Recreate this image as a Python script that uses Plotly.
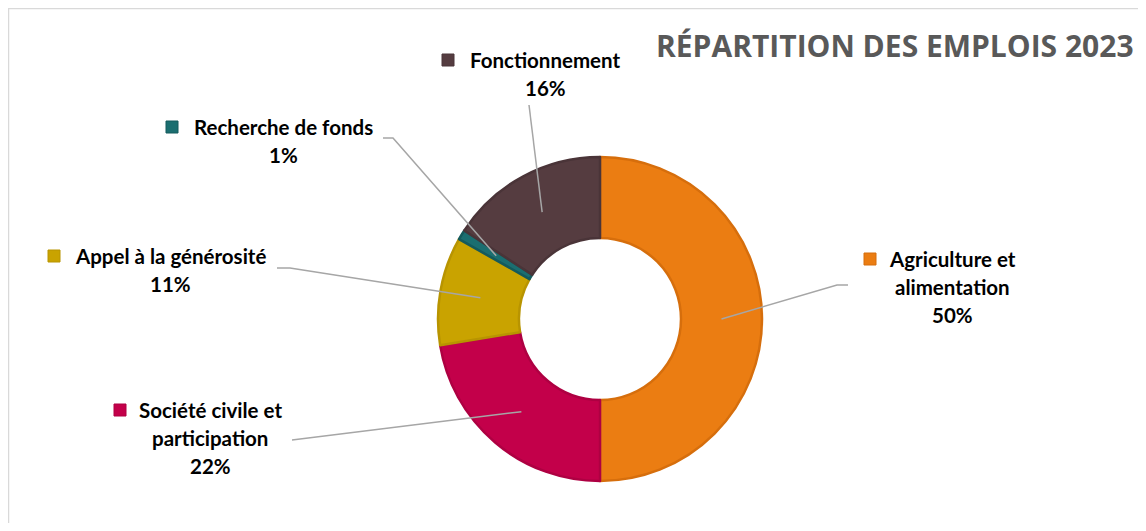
import math
import plotly.graph_objects as go

# ---- data ----
categories = ["Agriculture et alimentation", "Société civile et participation",
              "Appel à la générosité", "Recherche de fonds", "Fonctionnement"]
label_lines = [["Agriculture et", "alimentation"], ["Société civile et", "participation"],
               ["Appel à la générosité"], ["Recherche de fonds"], ["Fonctionnement"]]
values = [50.0, 22.4, 10.8, 1.0, 15.8]
colors = ["#EB7D12", "#C3004A", "#C9A300", "#1B6E70", "#553C40"]
edge_colors = ["#D66E0C", "#AE0042", "#B89400", "#145A5C", "#4A3438"]
title_text = "RÉPARTITION DES EMPLOIS 2023"

# ---- layout constants (page pixels) ----
PAGE_W, PAGE_H = 1146, 531
OFF = 8  # default body margin of the page
W, H = PAGE_W - 2 * OFF, PAGE_H - 2 * OFF
CX, CY, R_OUT = 600, 319, 162
HOLE = 0.5
R_MID = R_OUT * (1 + HOLE) / 2

def px(x, y):
    return (x - OFF) / W, 1 - (y - OFF) / H

label_pos = [
    dict(cx=952, y0=259, elbow=(837, 285), end=(848, 285)),
    dict(cx=210, y0=410, elbow=(292, 440), end=(292, 440)),
    dict(cx=170, y0=256, elbow=(290, 268), end=(277, 268)),
    dict(cx=283, y0=127, elbow=(393, 138), end=(383, 138)),
    dict(cx=545, y0=60, elbow=(529, 105), end=(529, 105)),
]
sq_x = [870, 120, 54, 172, 448]
LINE_H = 28
FONT = "Lato"
FSIZE = 20.5

fig = go.Figure()
dx0, dy1 = px(CX - R_OUT, CY - R_OUT)
dx1, dy0 = px(CX + R_OUT, CY + R_OUT)
fig.add_trace(go.Pie(
    labels=categories, values=values, sort=False, direction="clockwise", rotation=0,
    hole=HOLE, textinfo="none", hoverinfo="label+percent",
    marker=dict(colors=colors, line=dict(color=edge_colors, width=2.5)),
    domain=dict(x=[dx0, dx1], y=[dy0, dy1]),
    showlegend=False,
))

shapes = []
annotations = []
total = sum(values)
cum = 0.0
for i, v in enumerate(values):
    mid = (cum + v / 2) / total * 2 * math.pi
    cum += v
    sx = CX + R_MID * math.sin(mid)
    sy = CY - R_MID * math.cos(mid)
    lp = label_pos[i]
    ex, ey = lp["elbow"]
    fx, fy = lp["end"]
    p = [px(sx, sy), px(ex, ey), px(fx, fy)]
    shapes.append(dict(type="path", xref="paper", yref="paper",
                       path="M {} {} L {} {} L {} {}".format(p[0][0], p[0][1], p[1][0], p[1][1], p[2][0], p[2][1]),
                       line=dict(color="#A6A6A6", width=1.5)))
    lines = label_lines[i] + ["{:.0f}%".format(v / total * 100)]
    for k, t in enumerate(lines):
        ax, ay = px(lp["cx"], lp["y0"] + k * LINE_H)
        annotations.append(dict(x=ax, y=ay, xref="paper", yref="paper", text="<b>" + t + "</b>",
                                showarrow=False, xanchor="center", yanchor="middle",
                                font=dict(family=FONT, size=FSIZE, color="#000000")))
    x0, y0 = px(sq_x[i] - 6, lp["y0"] - 6)
    x1, y1 = px(sq_x[i] + 6, lp["y0"] + 6)
    shapes.append(dict(type="rect", xref="paper", yref="paper", x0=x0, y0=y0, x1=x1, y1=y1,
                       fillcolor=colors[i], line=dict(color=edge_colors[i], width=1)))

# border lines (top and left)
bx, by = px(8, 8)
shapes.append(dict(type="line", xref="paper", yref="paper", x0=bx, y0=by, x1=1.01, y1=by,
                   line=dict(color="#D9D9D9", width=2.5)))
shapes.append(dict(type="line", xref="paper", yref="paper", x0=bx, y0=by, x1=bx, y1=-0.02,
                   line=dict(color="#D9D9D9", width=2.5)))

tx, ty = px(1136, 45)
annotations.append(dict(x=tx, y=ty, xref="paper", yref="paper",
                        text="<b>" + title_text + "</b>", showarrow=False,
                        xanchor="right", yanchor="middle",
                        font=dict(family="Open Sans", size=30, color="#595959")))

fig.update_layout(width=W, height=H, margin=dict(l=0, r=0, t=0, b=0),
                  paper_bgcolor="white", plot_bgcolor="white",
                  shapes=shapes, annotations=annotations)
fig.write_html("out.html")
